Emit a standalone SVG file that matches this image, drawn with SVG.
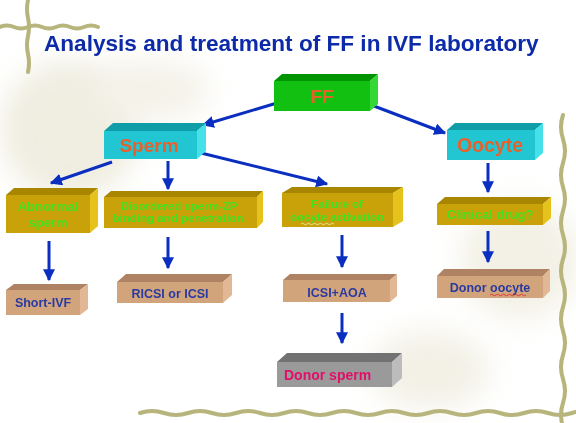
<svg xmlns="http://www.w3.org/2000/svg" width="576" height="423" viewBox="0 0 576 423">
<defs>
<marker id="ah" viewBox="0 0 10 10" refX="9" refY="5" markerWidth="4" markerHeight="4" orient="auto" markerUnits="strokeWidth">
<path d="M0,0 L10,5 L0,10 Z" fill="#0a2fc0"/>
</marker>
<filter id="blur" x="-50%" y="-50%" width="200%" height="200%"><feGaussianBlur stdDeviation="14"/></filter>
</defs>
<style>
text{font-family:"Liberation Sans",Arial,sans-serif;font-weight:bold;text-anchor:middle}
.title{fill:#0d2aa8;font-size:22.6px;text-anchor:start}
.edge{stroke:#0a2fc0;stroke-width:3;fill:none;marker-end:url(#ah)}
.vine{stroke:#b7b47c;stroke-width:4;fill:none;stroke-linecap:round}
.gF{fill:#12c012}.gT{fill:#009400}.gS{fill:#34d834}
.cF{fill:#22c6d2}.cT{fill:#0f9ea8}.cS{fill:#46e0ea}
.yF{fill:#c9a20a}.yT{fill:#a88600}.yS{fill:#e6c21c}
.tF{fill:#d2a47c}.tT{fill:#ae8262}.tS{fill:#e2b894}
.sF{fill:#9a9a9a}.sT{fill:#727272}.sS{fill:#bcbcbc}
.big{fill:#e8602a;font-size:19px}
.grn{fill:#44e020;font-size:13px}
.grs{fill:#44e020;font-size:11.5px}
.blu{fill:#2a3aa0;font-size:12.5px}
.pink{fill:#e0106a;font-size:14px;text-anchor:start}
</style>
<rect width="576" height="423" fill="#ffffff"/>
<g id="background" opacity="0.45">
<ellipse cx="70" cy="130" rx="70" ry="70" fill="#ddd8bc" filter="url(#blur)"/>
<ellipse cx="150" cy="90" rx="60" ry="30" fill="#e6e2cc" filter="url(#blur)"/>
<ellipse cx="520" cy="260" rx="60" ry="60" fill="#e4e0c8" filter="url(#blur)"/>
<ellipse cx="430" cy="370" rx="60" ry="40" fill="#e4e0c8" filter="url(#blur)"/>
</g>
<g id="vines">
<path class="vine" d="M28,0 q-2,9 0,18 t0,18 t0,18 t0,18"/>
<path class="vine" d="M0,27 q7,-3 14,0 t14,0 t14,0 t14,0 t14,0 t14,0 t14,0"/>
<path class="vine" d="M140,413 q12,-4 24,0 t24,0 t24,0 t24,0 t24,0 t24,0 t24,0 t24,0 t24,0 t24,0 t24,0 t24,0 t24,0 t24,0 t24,0 t24,0 t24,0 t24,0 t12,0"/>
<path class="vine" d="M563,115 q-4,12 0,24 t0,24 t0,24 t0,24 t0,24 t0,24 t0,24 t0,24 t0,24 t0,24 t0,24 t0,24 t0,24"/>
</g>
<text class="title" x="44" y="51">Analysis and treatment of FF in IVF laboratory</text>
<g id="connectors">
<line class="edge" x1="277" y1="103" x2="203" y2="125"/>
<line class="edge" x1="366" y1="103" x2="445" y2="133"/>
<line class="edge" x1="112" y1="162" x2="51" y2="183"/>
<line class="edge" x1="168" y1="161" x2="168" y2="189"/>
<line class="edge" x1="201" y1="153" x2="327" y2="184"/>
<line class="edge" x1="488" y1="163" x2="488" y2="192"/>
<line class="edge" x1="488" y1="231" x2="488" y2="262"/>
<line class="edge" x1="49" y1="241" x2="49" y2="280"/>
<line class="edge" x1="168" y1="237" x2="168" y2="268"/>
<line class="edge" x1="342" y1="235" x2="342" y2="267"/>
<line class="edge" x1="342" y1="313" x2="342" y2="343"/>
</g>
<g id="ff">
<polygon class="gT" points="274,81 282,74 378,74 370,81"/>
<polygon class="gS" points="370,81 378,74 378,104 370,111"/>
<rect class="gF" x="274" y="81" width="96" height="30"/>
<text class="big" x="322" y="103">FF</text>
</g>
<g id="sperm">
<polygon class="cT" points="104,131 113,123 206,123 197,131"/>
<polygon class="cS" points="197,131 206,123 206,151 197,159"/>
<rect class="cF" x="104" y="131" width="93" height="28"/>
<text class="big" x="149" y="152">Sperm</text>
</g>
<g id="oocyte">
<polygon class="cT" points="447,130 455,123 543,123 535,130"/>
<polygon class="cS" points="535,130 543,123 543,153 535,160"/>
<rect class="cF" x="447" y="130" width="88" height="30"/>
<text class="big" x="490" y="152" style="font-size:19.5px">Oocyte</text>
</g>
<g id="abnormal">
<polygon class="yT" points="6,195 14,188 98,188 90,195"/>
<polygon class="yS" points="90,195 98,188 98,226 90,233"/>
<rect class="yF" x="6" y="195" width="84" height="38"/>
<text class="grn" x="48" y="211">Abnormal</text>
<text class="grn" x="48" y="227">sperm</text>
</g>
<g id="disordered">
<polygon class="yT" points="104,197 111,191 263,191 257,197"/>
<polygon class="yS" points="257,197 263,191 263,222 257,228"/>
<rect class="yF" x="104" y="197" width="153" height="31"/>
<text class="grs" x="179" y="210">Disordered sperm-ZP</text>
<text class="grs" x="178" y="222">binding and  penetration</text>
</g>
<g id="failure">
<polygon class="yT" points="282,193 292,187 403,187 393,193"/>
<polygon class="yS" points="393,193 403,187 403,221 393,227"/>
<rect class="yF" x="282" y="193" width="111" height="34"/>
<text class="grs" x="337" y="208">Failure of</text>
<text class="grs" x="337" y="221">oocyte activation</text>
<path d="M301,224 q1.5,-1.5 3,0 t3,0 t3,0 t3,0 t3,0 t3,0 t3,0 t3,0 t3,0 t3,0 t3,0" stroke="#f0f0c0" stroke-width="0.8" fill="none"/>
</g>
<g id="clinical">
<polygon class="yT" points="437,204 445,197 551,197 543,204"/>
<polygon class="yS" points="543,204 551,197 551,218 543,225"/>
<rect class="yF" x="437" y="204" width="106" height="21"/>
<text class="grn" x="490" y="219">Clinical drug?</text>
</g>
<g id="shortivf">
<polygon class="tT" points="6,290 14,284 88,284 80,290"/>
<polygon class="tS" points="80,290 88,284 88,309 80,315"/>
<rect class="tF" x="6" y="290" width="74" height="25"/>
<text class="blu" x="43" y="307">Short-IVF</text>
</g>
<g id="ricsi">
<polygon class="tT" points="117,282 126,274 232,274 223,282"/>
<polygon class="tS" points="223,282 232,274 232,295 223,303"/>
<rect class="tF" x="117" y="282" width="106" height="21"/>
<text class="blu" x="170" y="298">RICSI or ICSI</text>
</g>
<g id="icsiaoa">
<polygon class="tT" points="283,280 290,274 397,274 390,280"/>
<polygon class="tS" points="390,280 397,274 397,296 390,302"/>
<rect class="tF" x="283" y="280" width="107" height="22"/>
<text class="blu" x="337" y="297">ICSI+AOA</text>
</g>
<g id="donoroocyte">
<polygon class="tT" points="437,276 444,269 550,269 543,276"/>
<polygon class="tS" points="543,276 550,269 550,291 543,298"/>
<rect class="tF" x="437" y="276" width="106" height="22"/>
<text class="blu" x="490" y="292">Donor oocyte</text>
<path d="M490,295 q1.5,-1.5 3,0 t3,0 t3,0 t3,0 t3,0 t3,0 t3,0 t3,0 t3,0 t3,0 t3,0 t3,0" stroke="#e02020" stroke-width="0.8" fill="none"/>
</g>
<g id="donorsperm">
<polygon class="sT" points="277,362 287,353 402,353 392,362"/>
<polygon class="sS" points="392,362 402,353 402,378 392,387"/>
<rect class="sF" x="277" y="362" width="115" height="25"/>
<text class="pink" x="284" y="380">Donor sperm</text>
</g>
</svg>
